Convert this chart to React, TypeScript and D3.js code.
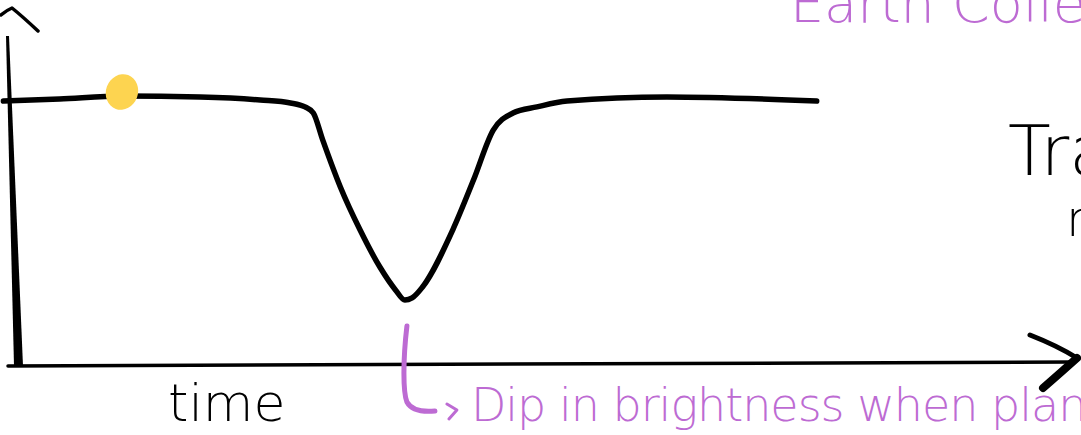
// @ts-nocheck
import { useEffect, useRef } from 'react';
import * as d3 from 'd3';

// light curve (time in arbitrary units, brightness relative to baseline)
const times = [-1.5, 3.9, 9.9, 17.4, 23.2, 26.1, 27.5, 28.3, 29.2, 30.9, 32.8, 34.7, 36.2, 37.1, 37.8, 38.8, 41.7, 43.7, 45.6, 47.5, 49.8, 52.7, 62.3, 76.7];
const brightness = [0.996, 1.004, 1.015, 1.011, 1.0, 0.989, 0.974, 0.951, 0.85, 0.673, 0.511, 0.372, 0.286, 0.248, 0.256, 0.297, 0.511, 0.699, 0.887, 0.951, 0.974, 0.996, 1.011, 0.996];

// the star marker
const starTime = [9.9];
const starBrightness = [1.03];

// annotation texts
const xLabel = 'time';
const yTitle = ['Transit', 'method'];
const topNote = 'Earth Colleshi';
const dipNote = 'Dip in brightness when planet passes';
const dipTime = [37.3];

const PURPLE = '#bd6bd3';
const HAND = '"DejaVu Sans", "Liberation Sans", sans-serif';

export default function App() {
  const svgRef = useRef<SVGSVGElement>(null);
  const width = 1081;
  const height = 435;

  useEffect(() => {
    document.body.style.margin = '0';
    if (!svgRef.current) return;
    const svg = d3.select(svgRef.current);
    svg.selectAll('*').remove();

    const x = d3.scaleLinear().domain([0, 100]).range([19, 1059]);
    const y = d3.scaleLinear().domain([0, 1]).range([366, 100]);

    // y axis: tapered hand stroke
    svg
      .append('path')
      .attr('d', 'M6,36 L9,36 L23,366 L14,366 Z')
      .attr('fill', '#000');

    // y arrow head
    svg
      .append('path')
      .attr('d', 'M1,15 Q7,10 12,8 Q22,16 38,31')
      .attr('fill', 'none')
      .attr('stroke', '#000')
      .attr('stroke-width', 3.5)
      .attr('stroke-linecap', 'round')
      .attr('stroke-linejoin', 'round');

    // x axis
    svg
      .append('path')
      .attr('d', `M8,${y(0)} L1072,${y(0) - 4}`)
      .attr('stroke', '#000')
      .attr('stroke-width', 3.5)
      .attr('stroke-linecap', 'round');

    // x arrow head
    svg
      .append('path')
      .attr('d', 'M1030,335 Q1058,346 1077,358')
      .attr('fill', 'none')
      .attr('stroke', '#000')
      .attr('stroke-width', 5)
      .attr('stroke-linecap', 'round');
    svg
      .append('path')
      .attr('d', 'M1077,358 Q1058,375 1043,388')
      .attr('fill', 'none')
      .attr('stroke', '#000')
      .attr('stroke-width', 8)
      .attr('stroke-linecap', 'round');

    // light curve
    const pts = times.map((t, i) => [x(t), y(brightness[i])] as [number, number]);
    const line = d3.line().curve(d3.curveMonotoneX);
    svg
      .append('path')
      .datum(pts)
      .attr('d', line)
      .attr('fill', 'none')
      .attr('stroke', '#000')
      .attr('stroke-width', 5.5)
      .attr('stroke-linecap', 'round')
      .attr('stroke-linejoin', 'round');

    // star
    svg
      .append('ellipse')
      .attr('cx', x(starTime[0]))
      .attr('cy', y(starBrightness[0]))
      .attr('rx', 16)
      .attr('ry', 18)
      .attr('transform', `rotate(20, ${x(starTime[0])}, ${y(starBrightness[0])})`)
      .attr('fill', '#fdd450');

    // dip annotation bracket
    const dx = x(dipTime[0]);
    svg
      .append('path')
      .attr('d', `M${dx},326 C${dx - 4},360 ${dx - 4},392 ${dx},402 Q${dx + 6},413 ${dx + 28},411`)
      .attr('fill', 'none')
      .attr('stroke', PURPLE)
      .attr('stroke-width', 5)
      .attr('stroke-linecap', 'round');
    svg
      .append('path')
      .attr('d', `M${dx + 40},404 L${dx + 50},410 L${dx + 42},419`)
      .attr('fill', 'none')
      .attr('stroke', PURPLE)
      .attr('stroke-width', 3)
      .attr('stroke-linecap', 'round')
      .attr('stroke-linejoin', 'round');

    svg
      .append('text')
      .attr('x', dx + 64)
      .attr('y', 421)
      .attr('fill', PURPLE)
      .attr('font-family', HAND)
      .attr('font-weight', 200)
      .attr('font-size', '46px')
      .attr('letter-spacing', '-1px')
      .text(dipNote);

    // axis label
    svg
      .append('text')
      .attr('x', 168)
      .attr('y', 421)
      .attr('fill', '#000')
      .attr('font-family', HAND)
      .attr('font-weight', 200)
      .attr('font-size', '52px')
      .text(xLabel);

    // top note (cut by the frame, as in the sketch)
    svg
      .append('text')
      .attr('x', 790)
      .attr('y', 22)
      .attr('fill', PURPLE)
      .attr('font-family', HAND)
      .attr('font-weight', 200)
      .attr('font-size', '54px')
      .text(topNote);

    // right side title (cut by the frame, as in the sketch)
    svg
      .append('text')
      .attr('x', 1008)
      .attr('y', 175)
      .attr('fill', '#000')
      .attr('font-family', HAND)
      .attr('font-weight', 200)
      .attr('font-size', '70px')
      .text(yTitle[0]);
    svg
      .append('text')
      .attr('x', 1066)
      .attr('y', 236)
      .attr('fill', '#000')
      .attr('font-family', HAND)
      .attr('font-weight', 200)
      .attr('font-size', '50px')
      .text(yTitle[1]);
  }, []);

  return (
    <svg
      ref={svgRef}
      width={width}
      height={height}
      style={{ display: 'block', background: '#fff' }}
    />
  );
}
